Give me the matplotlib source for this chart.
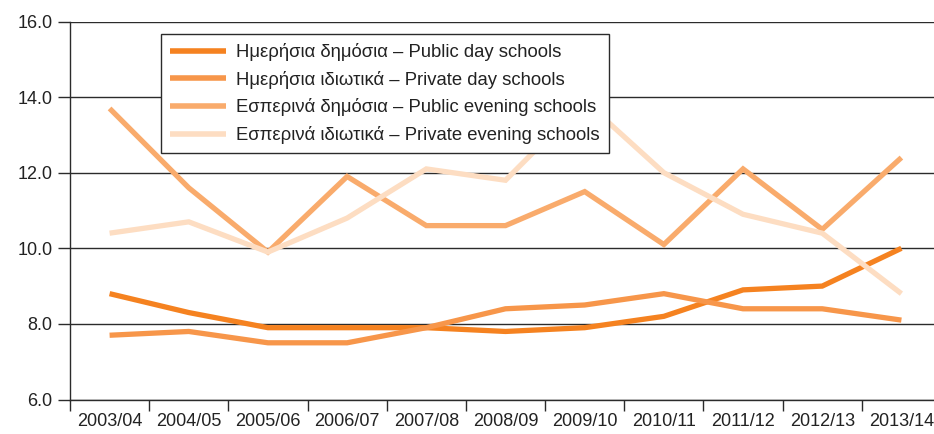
import matplotlib
matplotlib.use("Agg")
import matplotlib.pyplot as plt
import numpy as np

plt.rcParams['font.family'] = ['Liberation Sans', 'DejaVu Sans']

years = ["2003/04", "2004/05", "2005/06", "2006/07", "2007/08", "2008/09",
         "2009/10", "2010/11", "2011/12", "2012/13", "2013/14"]

public_day = [8.8, 8.3, 7.9, 7.9, 7.9, 7.8, 7.9, 8.2, 8.9, 9.0, 10.0]
private_day = [7.7, 7.8, 7.5, 7.5, 7.9, 8.4, 8.5, 8.8, 8.4, 8.4, 8.1]
public_evening = [13.7, 11.6, 9.9, 11.9, 10.6, 10.6, 11.5, 10.1, 12.1, 10.5, 12.4]
private_evening = [10.4, 10.7, 9.9, 10.8, 12.1, 11.8, 13.9, 12.0, 10.9, 10.4, 8.8]

labels = ["Ημερήσια δημόσια – Public day schools",
          "Ημερήσια ιδιωτικά – Private day schools",
          "Εσπερινά δημόσια – Public evening schools",
          "Εσπερινά ιδιωτικά – Private evening schools"]
colors = ["#F58220", "#F7964A", "#F9AB6C", "#FDDDC2"]
series = [public_day, private_day, public_evening, private_evening]

W, H = 934, 434
fig = plt.figure(figsize=(W / 100, H / 100), dpi=100)
left, right = 70, 941
top, bottom = 21.5, 399.5
ax = fig.add_axes([left / W, (H - bottom) / H, (right - left) / W, (bottom - top) / H])

x = np.arange(len(years))
lines = []
for vals, col, lab in zip(series, colors, labels):
    ln, = ax.plot(x, vals, color=col, lw=3.8, solid_joinstyle='miter',
                  solid_capstyle='butt', label=lab, zorder=3)
    lines.append(ln)

ax.set_xlim(-0.5, len(years) - 0.5)
ax.set_ylim(6, 16)
ax.set_yticks(np.arange(6, 16.1, 2))
ax.set_yticklabels([f"{v:.1f}" for v in np.arange(6, 16.1, 2)])
ax.yaxis.grid(True, color="#2b2b2b", lw=1.0, zorder=1)
ax.set_axisbelow(True)

ax.set_xticks(np.arange(-0.5, len(years)), minor=False)
ax.set_xticklabels([])
ax.set_xticks(x, minor=True)
ax.set_xticklabels(years, minor=True)
ax.tick_params(axis='x', which='major', length=8, width=1.0, color="#2b2b2b", direction='out')
ax.tick_params(axis='x', which='minor', length=0, pad=10, labelsize=13, labelcolor="#222222")
ax.tick_params(axis='y', length=8.6, width=1.0, color="#2b2b2b", labelsize=13,
               labelcolor="#222222", pad=4)

for s in ['top', 'right']:
    ax.spines[s].set_visible(False)
ax.spines['left'].set_color("#2b2b2b")
ax.spines['left'].set_linewidth(1.0)
ax.spines['bottom'].set_color("#2b2b2b")
ax.spines['bottom'].set_linewidth(1.0)

leg = ax.legend(handles=lines, loc='upper left',
                bbox_to_anchor=(161 / W, (H - 34) / H), bbox_transform=fig.transFigure,
                fontsize=13.3, frameon=True, fancybox=False, framealpha=1.0,
                handlelength=3.0, handletextpad=0.55, labelspacing=0.52,
                borderpad=0.5, borderaxespad=0)
leg.set_zorder(10)
leg.get_frame().set_edgecolor("#2b2b2b")
leg.get_frame().set_linewidth(1.0)
for t in leg.get_texts():
    t.set_color("#222222")
for h in leg.legend_handles:
    h.set_linewidth(4)

fig.savefig("out.png", dpi=100)
